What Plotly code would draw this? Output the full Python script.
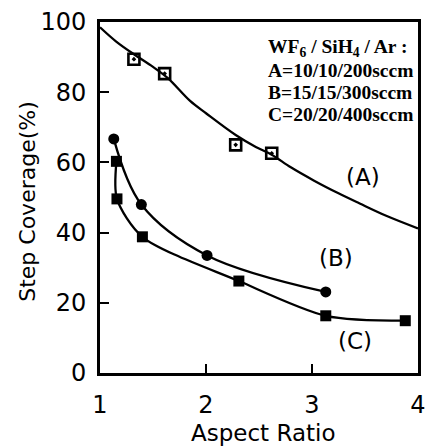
import plotly.graph_objects as go

# ---- data ----
a_x = [1.32, 1.61, 2.28, 2.62]
a_y = [89.4, 85.3, 65.0, 62.6]

a_fit_x = [1.0, 1.15, 1.33, 1.5, 1.64, 1.85, 2.0, 2.28, 2.47, 2.62, 2.8, 3.02, 3.25, 3.45, 3.7, 4.0]
a_fit_y = [98.5, 94.5, 90.6, 87.2, 84.0, 77.5, 74.0, 67.8, 64.4, 62.2, 58.6, 54.8, 51.2, 48.3, 44.8, 41.2]

b_x = [1.13, 1.39, 2.01, 3.13]
b_y = [66.7, 48.0, 33.5, 23.1]

c_x = [1.155, 1.16, 1.40, 2.31, 3.13, 3.88]
c_y = [60.3, 49.6, 38.8, 26.2, 16.3, 14.9]

x_ticks = [1, 2, 3, 4]
y_ticks = [0, 20, 40, 60, 80, 100]

legend_lines = [
    "WF<sub>6</sub> / SiH<sub>4</sub> / Ar :",
    "A=10/10/200sccm",
    "B=15/15/300sccm",
    "C=20/20/400sccm",
]
curve_labels = ["(A)", "(B)", "(C)"]
curve_label_x = [3.48, 3.23, 3.41]
curve_label_y = [55.7, 32.7, 9.2]

W, H = 434, 446
L, R, T, B = 100, 8, 20, 73
pw, ph = W - L - R, H - T - B
BOTTOM = T + ph  # pixel row of the x axis


def py(p):
    return (BOTTOM - p) / ph


def px(p):
    return (p - L) / pw


fig = go.Figure()
fig.add_trace(go.Scatter(x=a_fit_x, y=a_fit_y, mode="lines",
                         line=dict(color="black", width=2.3, shape="spline"), hoverinfo="skip"))
fig.add_trace(go.Scatter(x=a_x, y=a_y, mode="markers",
                         marker=dict(symbol="square-open-dot", size=11, color="black",
                                     line=dict(color="black", width=2.6))))
fig.add_trace(go.Scatter(x=b_x, y=b_y, mode="lines+markers",
                         line=dict(color="black", width=2.3, shape="spline", smoothing=1.0),
                         marker=dict(symbol="circle", size=11, color="black")))
fig.add_trace(go.Scatter(x=c_x, y=c_y, mode="lines+markers",
                         line=dict(color="black", width=2.3, shape="spline", smoothing=0.8),
                         marker=dict(symbol="square", size=11, color="black")))

axis_font = dict(family="DejaVu Sans", size=24, color="black")
fig.update_xaxes(range=[1, 4], tickvals=x_ticks, ticks="inside", ticklen=9, tickwidth=2.2,
                 tickcolor="black", showline=True, linecolor="black", linewidth=2.6, mirror=True,
                 showgrid=False, zeroline=False, tickfont=axis_font, ticklabelstandoff=8)
fig.update_yaxes(range=[0, 100], tickvals=y_ticks, ticks="inside", ticklen=9, tickwidth=2.2,
                 tickcolor="black", showline=True, linecolor="black", linewidth=2.6, mirror=True,
                 showgrid=False, zeroline=False, tickfont=axis_font, ticklabelstandoff=6)

# axis titles
fig.add_annotation(text="Aspect Ratio", xref="paper", yref="paper",
                   x=px(268), y=py(433), showarrow=False,
                   font=dict(family="DejaVu Sans", size=23, color="black"),
                   xanchor="center", yanchor="middle")
fig.add_annotation(text="Step Coverage(%)", xref="paper", yref="paper",
                   x=px(26), y=py(200), textangle=-90, showarrow=False,
                   font=dict(family="DejaVu Sans", size=22, color="black"),
                   xanchor="center", yanchor="middle")

# legend block
for i, t in enumerate(legend_lines):
    fig.add_annotation(text="<b>" + t + "</b>", xref="paper", yref="paper",
                       x=px(270), y=py(46 + 22.5 * i),
                       showarrow=False, xanchor="left", yanchor="middle",
                       font=dict(family="Liberation Serif", size=19.5, color="black"))

for t, xx, yy in zip(curve_labels, curve_label_x, curve_label_y):
    fig.add_annotation(text=t, x=xx, y=yy, showarrow=False,
                       font=dict(family="DejaVu Sans", size=23, color="black"))

fig.update_layout(width=W, height=H, margin=dict(l=L, r=R, t=T, b=B),
                  paper_bgcolor="white", plot_bgcolor="white", showlegend=False)

fig.write_html("out.html", config={"displayModeBar": False},
               post_script="document.body.style.margin='0';")
